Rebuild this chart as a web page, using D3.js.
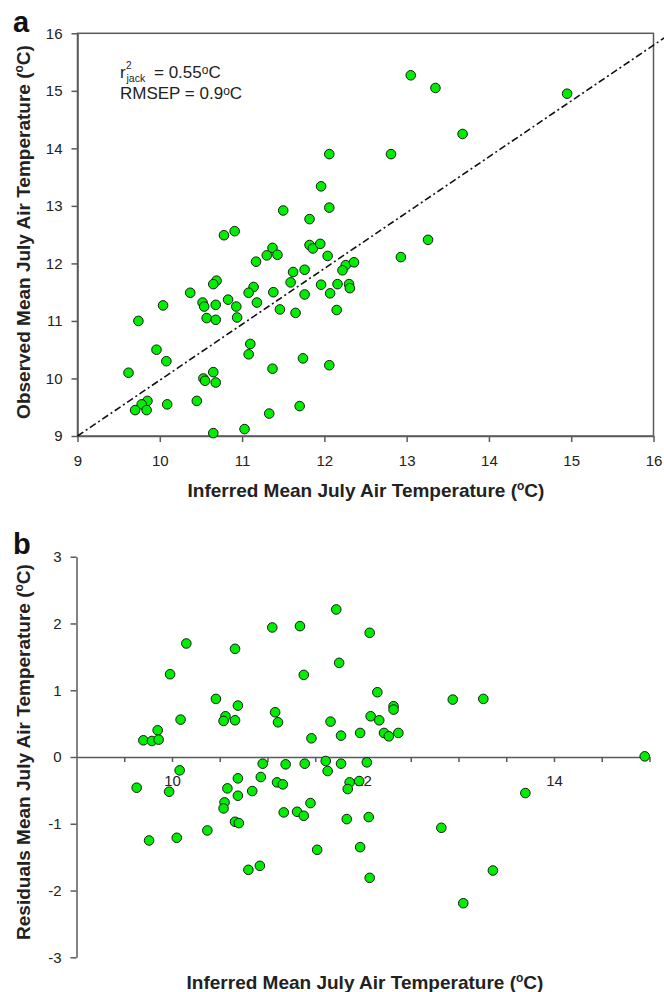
<!DOCTYPE html>
<html>
<head>
<meta charset="utf-8">
<script src="https://cdn.jsdelivr.net/npm/d3@7"></script>
<style>
  body { margin: 0; background: #fff; }
  svg { display: block; font-family: Arial, 'Liberation Sans', sans-serif; }
  .axis path, .axis line { stroke: #5a5a5a; stroke-width: 1.5; }
  .axis text { font-size: 15px; fill: #222; font-family: Arial, 'Liberation Sans', sans-serif; }
</style>
</head>
<body>
<svg id="canvas" width="664" height="992"></svg>
<script>
// panel a : inferred vs observed
var inferredA = [10.78, 10.91, 11.37, 11.30, 11.43, 11.17, 10.69, 10.65, 10.37, 11.14,
  11.08, 11.38, 10.04, 10.52, 10.54, 10.68, 10.83, 10.93, 11.18, 11.46,
  9.74, 10.57, 10.68, 10.94, 11.10, 11.08, 9.96, 10.08, 9.62, 11.37,
  10.65, 10.53, 10.55, 10.68, 9.85, 9.78, 9.70, 9.84, 10.09, 10.45,
  11.33, 10.65, 11.03,
  12.06, 12.81, 11.96, 12.06, 11.50, 11.82, 11.82, 11.86, 11.95, 12.04,
  12.26, 12.22, 12.36, 12.93, 11.62, 11.76, 11.59, 11.96, 12.16, 12.30,
  12.31, 11.76, 12.07, 11.65, 12.15, 11.74, 12.06,
  13.05, 13.35, 14.95, 13.68, 13.26, 11.70];
var observedA = [12.49, 12.56, 12.27, 12.14, 12.15, 12.03, 11.70, 11.64, 11.49, 11.59,
  11.49, 11.50, 11.27, 11.32, 11.25, 11.28, 11.37, 11.25, 11.32, 11.20,
  11.00, 11.05, 11.02, 11.06, 10.60, 10.42, 10.50, 10.30, 10.10, 10.17,
  10.11, 10.00, 9.96, 9.93, 9.61, 9.55, 9.45, 9.45, 9.55, 9.61,
  9.39, 9.05, 9.12,
  13.90, 13.90, 13.34, 12.97, 12.92, 12.77, 12.32, 12.26, 12.34, 12.13,
  11.97, 11.88, 12.02, 12.11, 11.85, 11.89, 11.67, 11.63, 11.64, 11.64,
  11.57, 11.46, 11.48, 11.14, 11.19, 10.35, 10.23,
  15.27, 15.05, 14.95, 14.25, 12.41, 9.52];

// dash-dot reference line (end points)
var refLineX = [9, 16.13];
var refLineY = [9, 15.92];

// panel b : inferred vs residuals
var inferredB = [11.05, 11.34, 10.15, 10.66, 9.98, 11.38, 10.46, 10.69, 11.08, 11.11,
  10.56, 10.54, 10.66, 10.09, 9.85, 9.70, 9.79, 9.86, 11.46, 10.95,
  11.19, 11.39, 10.08, 10.69, 10.93, 11.10, 11.16, 11.45, 9.63, 9.97,
  10.58, 10.69, 10.84, 10.55, 10.54, 11.17, 11.31, 11.38, 10.66, 10.70,
  9.76, 10.05, 10.37, 10.80, 10.92,
  11.72, 12.07, 11.75, 12.15, 12.94, 12.32, 12.32, 12.08, 12.17, 11.66,
  11.77, 11.97, 12.22, 12.27, 12.37, 11.61, 11.77, 12.04, 11.63, 11.86,
  11.96, 11.84, 11.83, 12.06, 12.82, 11.52, 11.97, 12.07, 13.05,
  13.70, 13.36, 14.95, 13.26];
var residualB = [1.94, 1.96, 1.70, 1.62, 1.24, 1.23, 0.87, 0.77, 0.67, 0.52,
  0.61, 0.54, 0.55, 0.56, 0.40, 0.25, 0.24, 0.26, 0.28, -0.10,
  -0.11, -0.10, -0.20, -0.32, -0.30, -0.38, -0.41, -0.69, -0.46, -0.52,
  -0.47, -0.58, -0.51, -0.68, -0.77, -0.83, -0.82, -0.88, -0.97, -0.99,
  -1.25, -1.21, -1.10, -1.69, -1.63,
  2.21, 1.86, 1.41, 0.97, 0.86, 0.76, 0.71, 0.61, 0.55, 0.53,
  0.32, 0.36, 0.36, 0.31, 0.36, -0.06, -0.10, -0.08, -0.21, -0.38,
  -0.36, -0.48, -0.93, -0.90, -1.06, -1.39, -1.35, -1.81, -2.19,
  -0.54, -1.70, 0.01, 0.87];

// ticks
var ticksAx = [9, 10, 11, 12, 13, 14, 15, 16];
var ticksAy = [9, 10, 11, 12, 13, 14, 15, 16];
var ticksBx = [9.5, 10, 10.5, 11, 11.5, 12, 12.5, 13, 13.5, 14, 14.5, 15];
var labelsBx = [10, 12, 14];
var ticksBy = [-3, -2, -1, 0, 1, 2, 3];

var svg = d3.select('#canvas');
var dotFill = '#00ee00';
var dotR = 4.8;
var plain = function(d){ return String(d); };   // hyphen minus, like the original

function degTitle(sel, label){
  sel.append('tspan').text(label + ' (');
  sel.append('tspan').attr('font-size', '12px').attr('dy', -7).text('o');
  sel.append('tspan').attr('dy', 7).text('C)');
}

// ************************************************************************************************** //
// Panel a

var xA = d3.scaleLinear().domain([9, 16]).range([77.5, 653.5]);
var yA = d3.scaleLinear().domain([9, 16]).range([436, 33.3]);

var gA = svg.append('g');

gA.append('rect')
  .attr('x', xA(9)).attr('y', yA(16))
  .attr('width', xA(16) - xA(9)).attr('height', yA(9) - yA(16))
  .attr('fill', 'none').attr('stroke', '#5a5a5a').attr('stroke-width', 1.5);

var axAx = gA.append('g').attr('class', 'axis')
  .attr('transform', 'translate(0,' + yA(9) + ')')
  .call(d3.axisBottom(xA).tickValues(ticksAx).tickSize(6).tickSizeOuter(0).tickFormat(plain));
axAx.selectAll('text').attr('dy', null).attr('y', 30);

gA.append('g').attr('class', 'axis')
  .attr('transform', 'translate(' + xA(9) + ',0)')
  .call(d3.axisLeft(yA).tickValues(ticksAy).tickSize(6).tickSizeOuter(0).tickPadding(9).tickFormat(plain));

gA.append('line')
  .attr('x1', xA(refLineX[0])).attr('y1', yA(refLineY[0]))
  .attr('x2', xA(refLineX[1])).attr('y2', yA(refLineY[1]))
  .attr('stroke', '#111').attr('stroke-width', 1.6)
  .attr('stroke-dasharray', '7,3,2,3');

gA.selectAll('circle.pt').data(d3.range(inferredA.length)).enter()
  .append('circle').attr('class', 'pt')
  .attr('cx', function(i){ return xA(inferredA[i]); })
  .attr('cy', function(i){ return yA(observedA[i]); })
  .attr('r', dotR)
  .attr('fill', dotFill).attr('stroke', '#1a1a1a').attr('stroke-width', 1);

// stats text (r squared jack-knifed, RMSEP)
gA.append('text').attr('x', 120).attr('y', 78).attr('font-size', '17px').attr('fill', '#222').text('r');
gA.append('text').attr('x', 126).attr('y', 69).attr('font-size', '10px').attr('fill', '#222').text('2');
gA.append('text').attr('x', 126.5).attr('y', 82).attr('font-size', '10.5px').attr('fill', '#222').text('jack');
var st = gA.append('text').attr('x', 154).attr('y', 78).attr('font-size', '17px').attr('fill', '#222');
st.append('tspan').text(' = 0.55');
st.append('tspan').attr('font-size', '12px').attr('dy', -4).text('o');
st.append('tspan').attr('dy', 4).text('C');

var st2 = gA.append('text').attr('x', 120).attr('y', 99).attr('font-size', '17px').attr('fill', '#222');
st2.append('tspan').text('RMSEP = 0.9');
st2.append('tspan').attr('font-size', '12px').attr('dy', -4).text('o');
st2.append('tspan').attr('dy', 4).text('C');

gA.append('text').attr('x', 366).attr('y', 497).attr('text-anchor', 'middle')
  .attr('font-size', '19px').attr('font-weight', 'bold').attr('fill', '#222')
  .call(degTitle, 'Inferred Mean July Air Temperature');

gA.append('text').attr('transform', 'translate(30,232) rotate(-90)').attr('text-anchor', 'middle')
  .attr('font-size', '19px').attr('font-weight', 'bold').attr('fill', '#222')
  .call(degTitle, 'Observed Mean July Air Temperature');

gA.append('text').attr('x', 13).attr('y', 32)
  .attr('font-size', '29px').attr('font-weight', 'bold').attr('fill', '#111').text('a');

// ************************************************************************************************** //
// Panel b

var xB = d3.scaleLinear().domain([9, 15]).range([76.5, 649.5]);
var yB = d3.scaleLinear().domain([-3, 3]).range([957.3, 556.7]);

var gB = svg.append('g');

var axBx = gB.append('g').attr('class', 'axis')
  .attr('transform', 'translate(0,' + yB(0) + ')')
  .call(d3.axisBottom(xB).tickValues(ticksBx).tickSize(5).tickSizeOuter(0)
    .tickFormat(function(d){ return labelsBx.indexOf(d) >= 0 ? d : ''; }));
axBx.selectAll('text').attr('dy', null).attr('y', 29);

gB.append('g').attr('class', 'axis')
  .attr('transform', 'translate(' + xB(9) + ',0)')
  .call(d3.axisLeft(yB).tickValues(ticksBy).tickSize(6).tickSizeOuter(0).tickPadding(9).tickFormat(plain));

gB.selectAll('circle.pt').data(d3.range(inferredB.length)).enter()
  .append('circle').attr('class', 'pt')
  .attr('cx', function(i){ return xB(inferredB[i]); })
  .attr('cy', function(i){ return yB(residualB[i]); })
  .attr('r', dotR)
  .attr('fill', dotFill).attr('stroke', '#1a1a1a').attr('stroke-width', 1);

gB.append('text').attr('x', 365).attr('y', 989).attr('text-anchor', 'middle')
  .attr('font-size', '19px').attr('font-weight', 'bold').attr('fill', '#222')
  .call(degTitle, 'Inferred Mean July Air Temperature');

gB.append('text').attr('transform', 'translate(30,752) rotate(-90)').attr('text-anchor', 'middle')
  .attr('font-size', '19px').attr('font-weight', 'bold').attr('fill', '#222')
  .call(degTitle, 'Residuals Mean July Air Temperature');

gB.append('text').attr('x', 13).attr('y', 554)
  .attr('font-size', '29px').attr('font-weight', 'bold').attr('fill', '#111').text('b');
</script>
</body>
</html>
